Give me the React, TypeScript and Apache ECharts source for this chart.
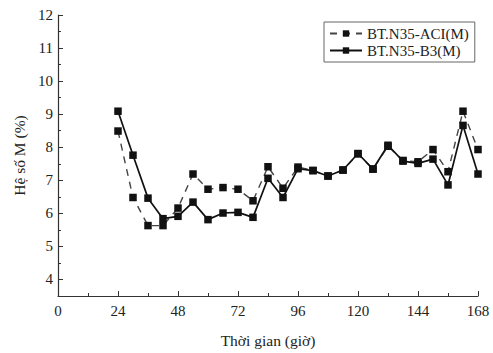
import React, { useEffect, useRef } from "react";
import * as echarts from "echarts";

const hours = [24, 30, 36, 42, 48, 54, 60, 66, 72, 78, 84, 90, 96, 102, 108, 114, 120, 126, 132, 138, 144, 150, 156, 162, 168];
const aciValues = [8.49, 6.48, 5.63, 5.63, 6.16, 7.19, 6.73, 6.78, 6.73, 6.38, 7.41, 6.76, 7.4, 7.3, 7.13, 7.31, 7.8, 7.34, 8.03, 7.6, 7.56, 7.93, 7.26, 9.09, 7.93];
const b3Values = [9.09, 7.76, 6.46, 5.84, 5.91, 6.34, 5.81, 6.01, 6.03, 5.88, 7.06, 6.48, 7.35, 7.29, 7.13, 7.31, 7.81, 7.34, 8.06, 7.58, 7.51, 7.64, 6.86, 8.66, 7.19];
const seriesNames = ["BT.N35-ACI(M)", "BT.N35-B3(M)"];
const yMajorTicks = [4, 5, 6, 7, 8, 9, 10, 11, 12];

const FONT = "Liberation Serif";

export default function App() {
  const ref = useRef<HTMLDivElement>(null);
  useEffect(() => {
    if (!ref.current) return;
    const chart = echarts.init(ref.current, null, { renderer: "svg" });
    const toPairs = (vals: number[]) => hours.map((h, i) => [h, vals[i]]);
    chart.setOption({
      animation: false,
      backgroundColor: "#fff",
      textStyle: { fontFamily: FONT },
      grid: { left: 58, right: 15, top: 15, bottom: 56 },
      legend: {
        orient: "vertical",
        left: 324,
        top: 22,
        padding: [3, 6, 3, 5],
        itemGap: 0,
        itemWidth: 32,
        itemHeight: 8,
        borderColor: "#666",
        borderWidth: 1,
        borderRadius: 0,
        textStyle: { fontFamily: FONT, fontSize: 15, lineHeight: 17, color: "#222" },
        data: seriesNames,
      },
      xAxis: {
        type: "value",
        min: 0,
        max: 168,
        interval: 24,
        name: "Thời gian (giờ)",
        nameLocation: "middle",
        nameGap: 36,
        nameTextStyle: { fontFamily: FONT, fontSize: 15.5, color: "#222" },
        axisLine: { show: true, lineStyle: { color: "#333", width: 1.2 } },
        axisTick: { show: true, inside: true, length: 5, lineStyle: { color: "#333" } },
        minorTick: { show: true, splitNumber: 2, length: 3, lineStyle: { color: "#333" } },
        axisLabel: { fontFamily: FONT, fontSize: 15, color: "#222", margin: 7 },
        splitLine: { show: false },
      },
      yAxis: [
        {
          type: "value",
          min: 3.5,
          max: 12,
          interval: 0.5,
          name: "Hệ số M (%)",
          nameLocation: "middle",
          nameGap: 24,
          nameTextStyle: { fontFamily: FONT, fontSize: 15.5, color: "#222" },
          axisLine: { show: true, lineStyle: { color: "#333", width: 1.2 } },
          axisTick: { show: true, inside: true, length: 3, lineStyle: { color: "#333" } },
          axisLabel: {
            fontFamily: FONT,
            fontSize: 15,
            color: "#222",
            margin: 5,
            formatter: (v: number) => (Number.isInteger(v) ? String(v) : ""),
          },
          splitLine: { show: false },
        },
        {
          type: "value",
          min: 3.5,
          max: 12,
          position: "left",
          axisLine: { show: false },
          axisTick: { show: true, inside: true, length: 5, customValues: yMajorTicks, lineStyle: { color: "#333" } },
          axisLabel: { show: false },
          splitLine: { show: false },
        },
      ],
      series: [
        {
          name: seriesNames[0],
          type: "line",
          data: toPairs(aciValues),
          symbol: "rect",
          symbolSize: 7.5,
          itemStyle: { color: "#111" },
          lineStyle: { color: "#444", width: 1.4, type: [7, 6] },
        },
        {
          name: seriesNames[1],
          type: "line",
          data: toPairs(b3Values),
          symbol: "rect",
          symbolSize: 7.5,
          itemStyle: { color: "#111" },
          lineStyle: { color: "#111", width: 1.7 },
        },
      ],
    });
    return () => chart.dispose();
  }, []);
  return <div ref={ref} style={{ width: 493, height: 353, position: "absolute", left: 0, top: 0 }} />;
}
